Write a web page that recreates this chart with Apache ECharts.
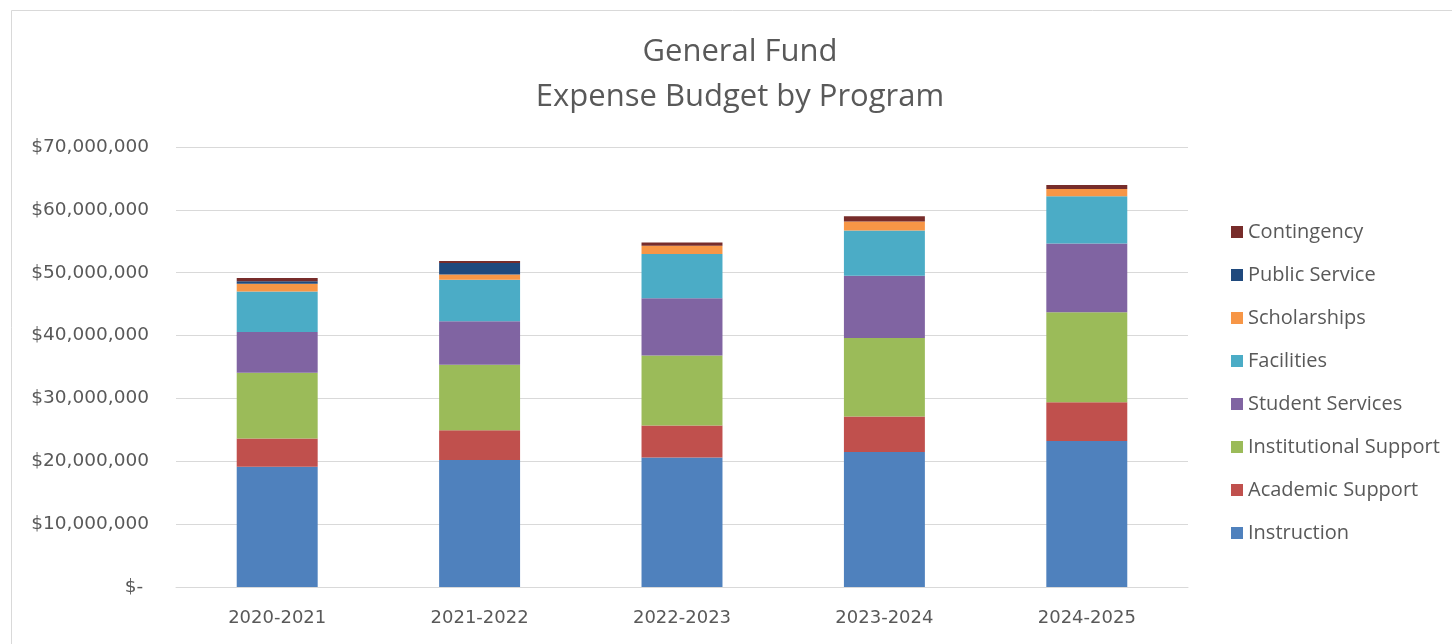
<!DOCTYPE html>
<html>
<head>
<meta charset="utf-8">
<script src="https://cdn.jsdelivr.net/npm/echarts@6/dist/echarts.min.js"></script>
<style>
html,body{margin:0;padding:0;background:#fff;}
#chart{width:1452px;height:644px;}
</style>
</head>
<body>
<div id="chart"></div>
<script>
const categories = ['2020-2021', '2021-2022', '2022-2023', '2023-2024', '2024-2025'];
const instruction = [19130000, 20190000, 20590000, 21480000, 23220000];
const academicSupport = [4510000, 4760000, 5120000, 5660000, 6190000];
const institutionalSupport = [10460000, 10420000, 11110000, 12490000, 14290000];
const studentServices = [6450000, 6920000, 9100000, 9890000, 10950000];
const facilities = [6480000, 6600000, 7050000, 7190000, 7520000];
const scholarships = [1220000, 840000, 1320000, 1430000, 1160000];
const publicService = [410000, 1810000, 0, 0, 0];
const contingency = [500000, 320000, 520000, 860000, 640000];

const seriesNames = ['Instruction', 'Academic Support', 'Institutional Support', 'Student Services', 'Facilities', 'Scholarships', 'Public Service', 'Contingency'];
const seriesData = [instruction, academicSupport, institutionalSupport, studentServices, facilities, scholarships, publicService, contingency];
const colors = ['#4F81BD', '#C0504D', '#9BBB59', '#8064A2', '#4BACC6', '#F79646', '#1F497D', '#772C2A'];

const yMin = 0, yMax = 70000000, yInterval = 10000000;

const txt = '#595959';
const font = 'Open Sans';
const numFont = 'DejaVu Sans';

const chart = echarts.init(document.getElementById('chart'), null, {renderer: 'canvas'});
chart.setOption({
  backgroundColor: '#fff',
  animation: false,
  color: colors,
  graphic: [{
    type: 'rect', left: 9, top: 8,
    shape: {width: 1500, height: 700},
    style: {fill: 'none', stroke: '#d9d9d9', lineWidth: 1},
    silent: true, z: -10
  }],
  title: {
    text: 'General Fund\nExpense Budget by Program',
    left: 735, top: 25, textAlign: 'center',
    textStyle: {fontFamily: font, fontSize: 31, fontWeight: 'normal', color: txt, lineHeight: 45}
  },
  legend: {
    orient: 'vertical', left: 1226, top: 217,
    itemWidth: 12, itemHeight: 12, itemGap: 23,
    icon: 'rect',
    data: seriesNames.slice().reverse(),
    textStyle: {fontFamily: font, fontSize: 20, color: txt, lineHeight: 20}
  },
  grid: {left: 176, right: 264, top: 147, bottom: 57, containLabel: false},
  xAxis: {
    type: 'category', data: categories,
    axisLine: {lineStyle: {color: '#d9d9d9', width: 1}},
    axisTick: {show: false},
    axisLabel: {fontFamily: numFont, fontSize: 18, color: txt, margin: 22}
  },
  yAxis: {
    type: 'value', min: yMin, max: yMax, interval: yInterval,
    axisLine: {show: false}, axisTick: {show: false},
    splitLine: {lineStyle: {color: '#d9d9d9', width: 1}},
    axisLabel: {
      fontFamily: numFont, fontSize: 18.5, color: txt, margin: 27,
      formatter: v => v === 0 ? '$- ' : '$' + v.toLocaleString('en-US')
    }
  },
  series: seriesNames.map((n, i) => ({
    name: n, type: 'bar', stack: 'total', barWidth: '40%',
    data: seriesData[i],
    itemStyle: {color: colors[i]}
  }))
});
</script>
</body>
</html>
